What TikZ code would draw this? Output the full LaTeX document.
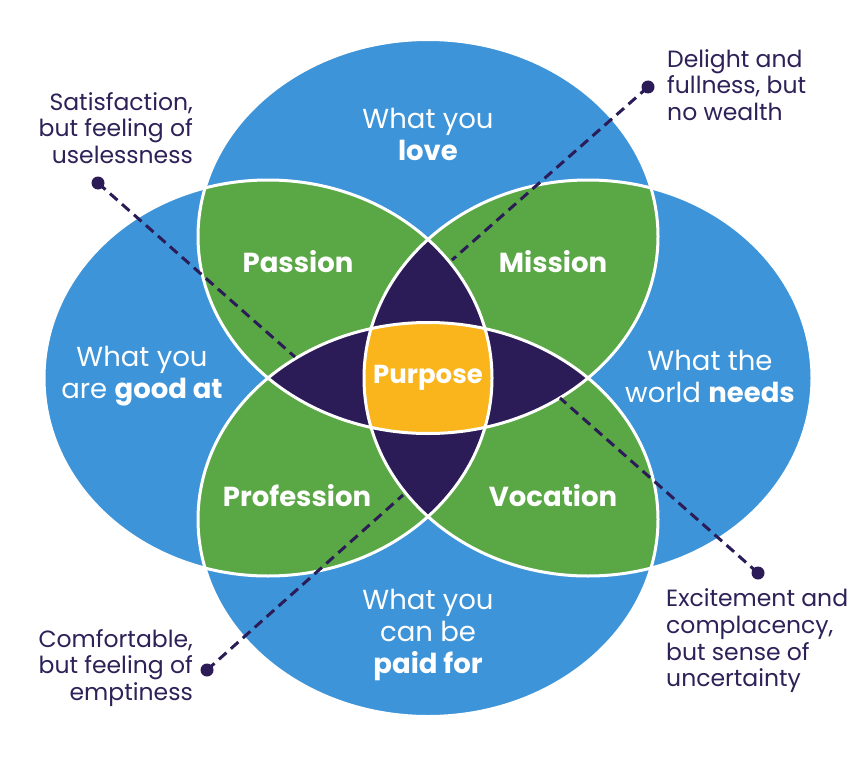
\documentclass[tikz,border=0pt]{standalone}
\usepackage{fontspec}
\setmainfont{Poppins}
\definecolor{ikblue}{HTML}{3D94D9}
\definecolor{ikgreen}{HTML}{5AA745}
\definecolor{ikdark}{HTML}{2B1C57}
\definecolor{ikyellow}{HTML}{F9B51B}
\definecolor{iktext}{HTML}{2E2158}
\tikzset{
  circtext/.style={text=white, font=\fontsize{27.5}{32}\selectfont, align=center, inner sep=0pt},
  regtext/.style={text=white, font=\fontsize{27.5}{30}\selectfont\bfseries, inner sep=0pt},
  note/.style={text=iktext, font=\fontsize{23.5}{26.7}\selectfont, inner sep=0pt},
  dot/.style={circle, fill=ikdark, minimum size=13pt, inner sep=0pt},
  leader/.style={draw=ikdark, line width=3pt, dash pattern=on 10pt off 6pt},
  rim/.style={draw=white, line width=3pt}
}
\def\ET{(428,236.5) ellipse [x radius=230pt, y radius=197pt]}
\def\EB{(428,519.5) ellipse [x radius=230pt, y radius=197pt]}
\def\EL{(268,378) ellipse [x radius=224pt, y radius=198pt]}
\def\ER{(588,378) ellipse [x radius=224pt, y radius=198pt]}
\begin{document}
\begin{tikzpicture}[x=1pt,y=-1pt]
\useasboundingbox (0,0) rectangle (856,757);
\fill[white] (0,0) rectangle (856,757);
% blue circles
\fill[ikblue] \ET; \fill[ikblue] \EB; \fill[ikblue] \EL; \fill[ikblue] \ER;
% green pairwise overlaps
\begin{scope}\clip \ET; \fill[ikgreen] \EL; \fill[ikgreen] \ER; \end{scope}
\begin{scope}\clip \EB; \fill[ikgreen] \EL; \fill[ikgreen] \ER; \end{scope}
% dark triple overlaps
\begin{scope}\clip \ET; \fill[ikdark] \EB; \end{scope}
\begin{scope}\clip \EL; \fill[ikdark] \ER; \end{scope}
% yellow centre
\begin{scope}\clip \ET; \clip \EB; \clip \EL; \fill[ikyellow] \ER; \end{scope}
% white rims
\draw[rim] \ET; \draw[rim] \EB; \draw[rim] \EL; \draw[rim] \ER;

% circle texts
\node[circtext] (love) at (428,134) {What you\\\textbf{love}};
\node[circtext] (good) at (142,376) {What you\\are \textbf{good at}};
\node[circtext] (needs) at (710,376) {What the\\world \textbf{needs}};
\node[circtext] (paid) at (428,635) {What you\\can be\\\textbf{paid for}};

% region texts
\node[regtext] (passion) at (298,262) {Passion};
\node[regtext] (mission) at (553,262) {Mission};
\node[regtext] (profession) at (297,496) {Profession};
\node[regtext] (vocation) at (553,496) {Vocation};
\node[regtext, font=\fontsize{26}{28}\selectfont\bfseries] (purpose) at (428,378) {Purpose};

% notes
\node[note, align=right, anchor=east] (n1) at (193,128) {Satisfaction,\\but feeling of\\uselessness};
\node[note, align=left, anchor=west] (n2) at (667,85) {Delight and\\fullness, but\\no wealth};
\node[note, align=right, anchor=east] (n3) at (193,668) {Comfortable,\\but feeling of\\emptiness};
\node[note, align=left, anchor=west] (n4) at (666,641) {Excitement and\\complacency,\\but sense of\\uncertainty};

% dots and leader ends
\node[dot] (d1) at (98,183) {};
\node[dot] (d2) at (648,87) {};
\node[dot] (d3) at (207,670) {};
\node[dot] (d4) at (758,573) {};
\coordinate (e1) at (295,357);
\coordinate (e2) at (452,260);
\coordinate (e3) at (403,495);
\coordinate (e4) at (560,398);
\draw[leader] (d1.center) -- (e1);
\draw[leader] (d2.center) -- (e2);
\draw[leader] (d3.center) -- (e3);
\draw[leader] (d4.center) -- (e4);
\end{tikzpicture}
\end{document}
